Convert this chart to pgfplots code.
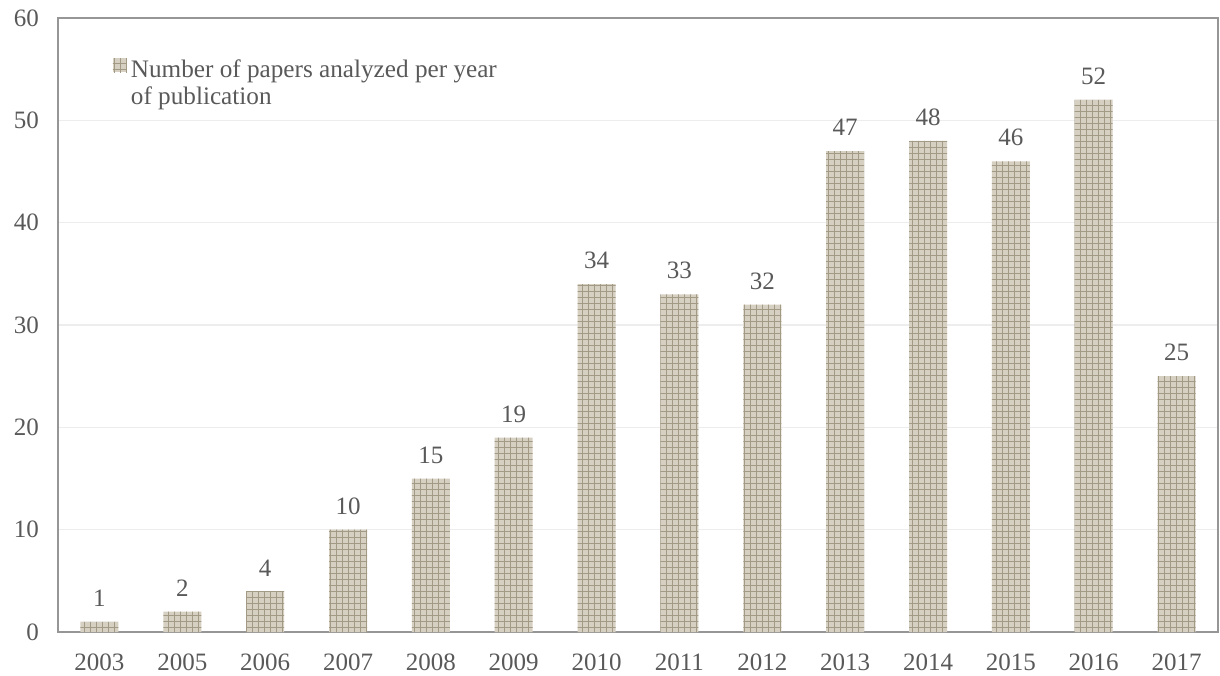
\documentclass[border=0pt]{standalone}
\usepackage{fontspec}
\setmainfont{Liberation Serif}
\usepackage{pgfplots}
\pgfplotsset{compat=1.18}
\usetikzlibrary{patterns}
\definecolor{txt}{HTML}{595959}
\definecolor{barbase}{HTML}{D6D0C2}
\definecolor{barline}{HTML}{A39A86}
\definecolor{frame}{HTML}{969696}
\definecolor{gridc}{HTML}{EDEDED}
\begin{document}
\begin{tikzpicture}
\useasboundingbox (-29pt,-21.5pt) rectangle (581pt,316pt);
\begin{axis}[
  scale only axis,
  width=580pt, height=307pt,
  xmin=-0.5, xmax=13.5,
  ymin=0, ymax=60,
  ytick={0,10,...,60},
  xtick={0,...,13},
  xticklabels={2003,2005,2006,2007,2008,2009,2010,2011,2012,2013,2014,2015,2016,2017},
  major tick length=0pt,
  ymajorgrids, grid style={gridc, line width=0.8pt},
  axis line style={frame, line width=0.9pt},
  x axis line style={line width=1.4pt, color=frame!90!black},
  tick label style={font=\fontsize{12.5}{15}\selectfont, text=txt},
  /pgf/number format/assume math mode=true,
  xticklabel style={yshift=-7.5pt},
  yticklabel style={xshift=-6pt},
  legend style={draw=none, fill=none, at={(0.047,0.94)}, anchor=north west,
    font=\fontsize{12.6}{13.5}\selectfont, text=txt,
    cells={anchor=north west, align=left}, inner sep=0pt},
  legend image code/.code={\path[#1] (0pt,-8.5pt) rectangle (7pt,-1.5pt);},
]
\addplot[ybar, bar width=19pt, draw=none, fill=barbase,
  postaction={pattern=grid, pattern color=barline},
  nodes near coords,
  every node near coord/.append style={font=\fontsize{12.5}{15}\selectfont, text=txt, yshift=4pt},
] coordinates {
(0,1) (1,2) (2,4) (3,10) (4,15) (5,19) (6,34) (7,33) (8,32) (9,47) (10,48) (11,46) (12,52) (13,25)
};
\addlegendentry{Number of papers analyzed per year\\of publication}
\end{axis}
\end{tikzpicture}
\end{document}
